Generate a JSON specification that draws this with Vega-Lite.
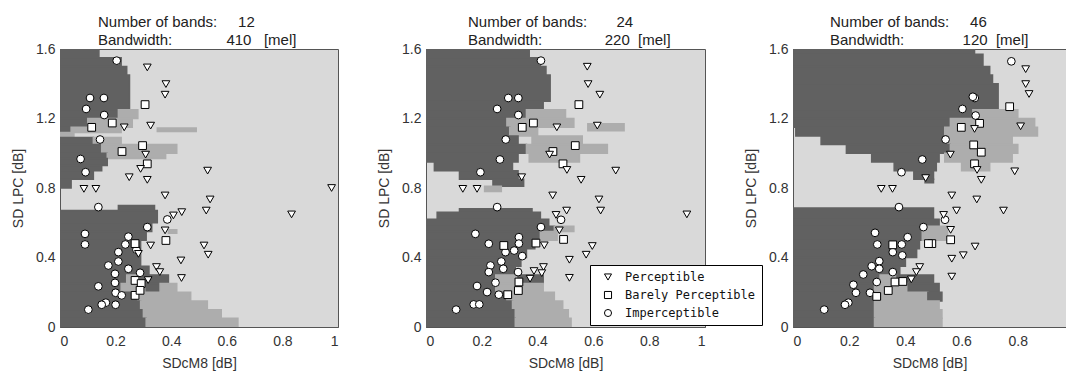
{
  "$schema": "https://vega.github.io/schema/vega-lite/v6.json",
  "background": "white",
  "padding": {"left": 11, "top": 14, "right": 0, "bottom": 0},
  "bounds": "flush",
  "spacing": 88,
  "config": {
    "font": "Liberation Sans",
    "view": {"fill": "#d9d9d9", "stroke": "#555555", "strokeWidth": 1},
    "axis": {"grid": false, "ticks": false, "labelFont": "Liberation Sans", "labelFontSize": 14, "labelColor": "#333333", "titleFont": "Liberation Sans", "titleFontSize": 14, "titleFontWeight": "normal", "titleColor": "#333333", "domainColor": "#555555", "zindex": 1},
    "axisY": {"labelPadding": 5, "titlePadding": 10},
    "axisX": {"labelPadding": 7, "titlePadding": 8},
    "title": {"font": "Liberation Sans", "fontSize": 15, "fontWeight": "normal", "color": "#222222", "anchor": "start", "align": "left", "lineHeight": 18, "offset": -6, "frame": "group"}
  },
  "datasets": {
    "r1": [
      {"y0":1.55,"y1":1.6,"x0":0,"x1":0.14,"c":"D"},
      {"y0":1.5,"y1":1.55,"x0":0,"x1":0.22,"c":"D"},
      {"y0":1.45,"y1":1.5,"x0":0,"x1":0.24,"c":"D"},
      {"y0":1.25,"y1":1.45,"x0":0,"x1":0.25,"c":"D"},
      {"y0":1.2,"y1":1.25,"x0":0,"x1":0.21,"c":"D"},
      {"y0":1.2,"y1":1.25,"x0":0.21,"x1":0.28,"c":"M"},
      {"y0":1.15,"y1":1.2,"x0":0,"x1":0.1,"c":"D"},
      {"y0":1.15,"y1":1.2,"x0":0.1,"x1":0.26,"c":"M"},
      {"y0":1.12,"y1":1.15,"x0":0,"x1":0.04,"c":"D"},
      {"y0":1.12,"y1":1.15,"x0":0.04,"x1":0.22,"c":"M"},
      {"y0":1.125,"y1":1.145,"x0":0.35,"x1":0.49,"c":"M"},
      {"y0":1.09,"y1":1.12,"x0":0,"x1":0.05,"c":"M"},
      {"y0":1.05,"y1":1.09,"x0":0,"x1":0.12,"c":"D"},
      {"y0":1.05,"y1":1.09,"x0":0.12,"x1":0.22,"c":"M"},
      {"y0":1.0,"y1":1.05,"x0":0,"x1":0.15,"c":"D"},
      {"y0":1.0,"y1":1.05,"x0":0.15,"x1":0.42,"c":"M"},
      {"y0":0.97,"y1":1.0,"x0":0,"x1":0.17,"c":"D"},
      {"y0":0.97,"y1":1.0,"x0":0.17,"x1":0.38,"c":"M"},
      {"y0":0.93,"y1":0.97,"x0":0,"x1":0.17,"c":"D"},
      {"y0":0.9,"y1":0.93,"x0":0,"x1":0.15,"c":"D"},
      {"y0":0.85,"y1":0.9,"x0":0,"x1":0.12,"c":"D"},
      {"y0":0.8,"y1":0.85,"x0":0,"x1":0.04,"c":"D"},
      {"y0":0.67,"y1":0.7,"x0":0.21,"x1":0.34,"c":"D"},
      {"y0":0.6,"y1":0.67,"x0":0,"x1":0.35,"c":"D"},
      {"y0":0.55,"y1":0.6,"x0":0,"x1":0.33,"c":"D"},
      {"y0":0.54,"y1":0.56,"x0":0.39,"x1":0.42,"c":"M"},
      {"y0":0.5,"y1":0.55,"x0":0,"x1":0.31,"c":"D"},
      {"y0":0.35,"y1":0.5,"x0":0,"x1":0.29,"c":"D"},
      {"y0":0.3,"y1":0.35,"x0":0,"x1":0.32,"c":"D"},
      {"y0":0.25,"y1":0.3,"x0":0,"x1":0.24,"c":"D"},
      {"y0":0.25,"y1":0.3,"x0":0.24,"x1":0.29,"c":"M"},
      {"y0":0.25,"y1":0.3,"x0":0.29,"x1":0.39,"c":"D"},
      {"y0":0.2,"y1":0.25,"x0":0,"x1":0.22,"c":"D"},
      {"y0":0.2,"y1":0.25,"x0":0.22,"x1":0.31,"c":"M"},
      {"y0":0.2,"y1":0.25,"x0":0.31,"x1":0.36,"c":"D"},
      {"y0":0.2,"y1":0.25,"x0":0.36,"x1":0.42,"c":"M"},
      {"y0":0.15,"y1":0.2,"x0":0,"x1":0.28,"c":"D"},
      {"y0":0.15,"y1":0.2,"x0":0.28,"x1":0.47,"c":"M"},
      {"y0":0.1,"y1":0.15,"x0":0,"x1":0.29,"c":"D"},
      {"y0":0.1,"y1":0.15,"x0":0.29,"x1":0.53,"c":"M"},
      {"y0":0.05,"y1":0.1,"x0":0,"x1":0.3,"c":"D"},
      {"y0":0.05,"y1":0.1,"x0":0.3,"x1":0.58,"c":"M"},
      {"y0":0,"y1":0.05,"x0":0,"x1":0.31,"c":"D"},
      {"y0":0,"y1":0.05,"x0":0.31,"x1":0.64,"c":"M"}
    ],
    "r2": [
      {"y0":1.55,"y1":1.6,"x0":0,"x1":0.37,"c":"D"},
      {"y0":1.5,"y1":1.55,"x0":0,"x1":0.41,"c":"D"},
      {"y0":1.45,"y1":1.5,"x0":0,"x1":0.43,"c":"D"},
      {"y0":1.3,"y1":1.45,"x0":0,"x1":0.445,"c":"D"},
      {"y0":1.25,"y1":1.3,"x0":0,"x1":0.42,"c":"D"},
      {"y0":1.2,"y1":1.25,"x0":0,"x1":0.36,"c":"D"},
      {"y0":1.2,"y1":1.25,"x0":0.36,"x1":0.5,"c":"M"},
      {"y0":1.15,"y1":1.2,"x0":0,"x1":0.29,"c":"D"},
      {"y0":1.15,"y1":1.2,"x0":0.29,"x1":0.53,"c":"M"},
      {"y0":1.13,"y1":1.17,"x0":0.58,"x1":0.71,"c":"M"},
      {"y0":1.1,"y1":1.15,"x0":0,"x1":0.3,"c":"D"},
      {"y0":1.1,"y1":1.15,"x0":0.3,"x1":0.4,"c":"M"},
      {"y0":1.05,"y1":1.1,"x0":0,"x1":0.33,"c":"D"},
      {"y0":1.05,"y1":1.1,"x0":0.38,"x1":0.56,"c":"M"},
      {"y0":1.0,"y1":1.05,"x0":0,"x1":0.36,"c":"D"},
      {"y0":1.0,"y1":1.05,"x0":0.36,"x1":0.65,"c":"M"},
      {"y0":0.95,"y1":1.0,"x0":0,"x1":0.33,"c":"D"},
      {"y0":0.95,"y1":1.0,"x0":0.37,"x1":0.55,"c":"M"},
      {"y0":0.9,"y1":0.95,"x0":0.03,"x1":0.31,"c":"D"},
      {"y0":0.85,"y1":0.9,"x0":0.12,"x1":0.33,"c":"D"},
      {"y0":0.81,"y1":0.85,"x0":0.24,"x1":0.35,"c":"D"},
      {"y0":0.78,"y1":0.81,"x0":0.21,"x1":0.27,"c":"M"},
      {"y0":0.66,"y1":0.68,"x0":0.12,"x1":0.38,"c":"D"},
      {"y0":0.62,"y1":0.66,"x0":0.04,"x1":0.41,"c":"D"},
      {"y0":0.58,"y1":0.62,"x0":0,"x1":0.44,"c":"D"},
      {"y0":0.55,"y1":0.58,"x0":0,"x1":0.46,"c":"D"},
      {"y0":0.55,"y1":0.58,"x0":0.46,"x1":0.53,"c":"M"},
      {"y0":0.5,"y1":0.55,"x0":0,"x1":0.41,"c":"D"},
      {"y0":0.5,"y1":0.55,"x0":0.41,"x1":0.47,"c":"M"},
      {"y0":0.45,"y1":0.5,"x0":0,"x1":0.39,"c":"D"},
      {"y0":0.4,"y1":0.45,"x0":0,"x1":0.36,"c":"D"},
      {"y0":0.35,"y1":0.4,"x0":0,"x1":0.34,"c":"D"},
      {"y0":0.3,"y1":0.35,"x0":0,"x1":0.32,"c":"D"},
      {"y0":0.25,"y1":0.3,"x0":0,"x1":0.25,"c":"D"},
      {"y0":0.25,"y1":0.3,"x0":0.25,"x1":0.33,"c":"M"},
      {"y0":0.25,"y1":0.3,"x0":0.33,"x1":0.42,"c":"D"},
      {"y0":0.2,"y1":0.25,"x0":0,"x1":0.25,"c":"D"},
      {"y0":0.2,"y1":0.25,"x0":0.25,"x1":0.42,"c":"M"},
      {"y0":0.15,"y1":0.2,"x0":0,"x1":0.29,"c":"D"},
      {"y0":0.15,"y1":0.2,"x0":0.29,"x1":0.46,"c":"M"},
      {"y0":0.1,"y1":0.15,"x0":0,"x1":0.31,"c":"D"},
      {"y0":0.1,"y1":0.15,"x0":0.31,"x1":0.49,"c":"M"},
      {"y0":0.05,"y1":0.1,"x0":0,"x1":0.32,"c":"D"},
      {"y0":0.05,"y1":0.1,"x0":0.32,"x1":0.51,"c":"M"},
      {"y0":0,"y1":0.05,"x0":0,"x1":0.32,"c":"D"},
      {"y0":0,"y1":0.05,"x0":0.32,"x1":0.52,"c":"M"}
    ],
    "r3": [
      {"y0":1.57,"y1":1.6,"x0":0,"x1":0.646,"c":"D"},
      {"y0":1.5,"y1":1.57,"x0":0,"x1":0.676,"c":"D"},
      {"y0":1.45,"y1":1.5,"x0":0,"x1":0.7,"c":"D"},
      {"y0":1.4,"y1":1.45,"x0":0,"x1":0.71,"c":"D"},
      {"y0":1.25,"y1":1.4,"x0":0,"x1":0.73,"c":"D"},
      {"y0":1.2,"y1":1.25,"x0":0,"x1":0.64,"c":"D"},
      {"y0":1.2,"y1":1.25,"x0":0.64,"x1":0.8,"c":"M"},
      {"y0":1.15,"y1":1.2,"x0":0,"x1":0.56,"c":"D"},
      {"y0":1.15,"y1":1.2,"x0":0.56,"x1":0.86,"c":"M"},
      {"y0":1.1,"y1":1.15,"x0":0.01,"x1":0.54,"c":"D"},
      {"y0":1.1,"y1":1.15,"x0":0.54,"x1":0.87,"c":"M"},
      {"y0":1.05,"y1":1.1,"x0":0.1,"x1":0.55,"c":"D"},
      {"y0":1.05,"y1":1.1,"x0":0.55,"x1":0.78,"c":"M"},
      {"y0":1.0,"y1":1.05,"x0":0.19,"x1":0.56,"c":"D"},
      {"y0":1.0,"y1":1.05,"x0":0.56,"x1":0.8,"c":"M"},
      {"y0":0.95,"y1":1.0,"x0":0.28,"x1":0.52,"c":"D"},
      {"y0":0.95,"y1":1.0,"x0":0.54,"x1":0.78,"c":"M"},
      {"y0":0.9,"y1":0.95,"x0":0.36,"x1":0.51,"c":"D"},
      {"y0":0.9,"y1":0.95,"x0":0.6,"x1":0.7,"c":"M"},
      {"y0":0.85,"y1":0.9,"x0":0.43,"x1":0.5,"c":"D"},
      {"y0":0.83,"y1":0.85,"x0":0.47,"x1":0.5,"c":"D"},
      {"y0":0.62,"y1":0.685,"x0":0,"x1":0.5,"c":"D"},
      {"y0":0.58,"y1":0.62,"x0":0,"x1":0.52,"c":"D"},
      {"y0":0.5,"y1":0.58,"x0":0,"x1":0.46,"c":"D"},
      {"y0":0.5,"y1":0.58,"x0":0.46,"x1":0.55,"c":"M"},
      {"y0":0.45,"y1":0.5,"x0":0,"x1":0.45,"c":"D"},
      {"y0":0.4,"y1":0.45,"x0":0,"x1":0.44,"c":"D"},
      {"y0":0.35,"y1":0.4,"x0":0,"x1":0.4,"c":"D"},
      {"y0":0.3,"y1":0.35,"x0":0,"x1":0.38,"c":"D"},
      {"y0":0.25,"y1":0.3,"x0":0,"x1":0.31,"c":"D"},
      {"y0":0.25,"y1":0.3,"x0":0.31,"x1":0.37,"c":"M"},
      {"y0":0.25,"y1":0.3,"x0":0.37,"x1":0.5,"c":"D"},
      {"y0":0.2,"y1":0.25,"x0":0,"x1":0.29,"c":"D"},
      {"y0":0.2,"y1":0.25,"x0":0.29,"x1":0.41,"c":"M"},
      {"y0":0.2,"y1":0.25,"x0":0.41,"x1":0.52,"c":"D"},
      {"y0":0.15,"y1":0.2,"x0":0,"x1":0.29,"c":"D"},
      {"y0":0.15,"y1":0.2,"x0":0.29,"x1":0.48,"c":"M"},
      {"y0":0.15,"y1":0.2,"x0":0.48,"x1":0.53,"c":"D"},
      {"y0":0.1,"y1":0.15,"x0":0,"x1":0.29,"c":"D"},
      {"y0":0.1,"y1":0.15,"x0":0.29,"x1":0.52,"c":"M"},
      {"y0":0.05,"y1":0.1,"x0":0,"x1":0.29,"c":"D"},
      {"y0":0.05,"y1":0.1,"x0":0.29,"x1":0.53,"c":"M"},
      {"y0":0,"y1":0.05,"x0":0,"x1":0.29,"c":"D"},
      {"y0":0,"y1":0.05,"x0":0.29,"x1":0.53,"c":"M"}
    ],
    "p1": [
      {"x":0.204,"y":1.533,"k":"Imperceptible"},{"x":0.108,"y":1.318,"k":"Imperceptible"},{"x":0.158,"y":1.318,"k":"Imperceptible"},{"x":0.094,"y":1.255,"k":"Imperceptible"},{"x":0.159,"y":1.22,"k":"Imperceptible"},{"x":0.144,"y":1.079,"k":"Imperceptible"},{"x":0.074,"y":0.967,"k":"Imperceptible"},{"x":0.092,"y":0.891,"k":"Imperceptible"},{"x":0.138,"y":0.69,"k":"Imperceptible"},{"x":0.386,"y":0.619,"k":"Imperceptible"},{"x":0.314,"y":0.575,"k":"Imperceptible"},{"x":0.09,"y":0.536,"k":"Imperceptible"},{"x":0.09,"y":0.475,"k":"Imperceptible"},{"x":0.246,"y":0.52,"k":"Imperceptible"},{"x":0.235,"y":0.475,"k":"Imperceptible"},{"x":0.21,"y":0.431,"k":"Imperceptible"},{"x":0.21,"y":0.377,"k":"Imperceptible"},{"x":0.174,"y":0.354,"k":"Imperceptible"},{"x":0.246,"y":0.335,"k":"Imperceptible"},{"x":0.198,"y":0.306,"k":"Imperceptible"},{"x":0.288,"y":0.312,"k":"Imperceptible"},{"x":0.198,"y":0.254,"k":"Imperceptible"},{"x":0.138,"y":0.234,"k":"Imperceptible"},{"x":0.2,"y":0.197,"k":"Imperceptible"},{"x":0.222,"y":0.182,"k":"Imperceptible"},{"x":0.165,"y":0.14,"k":"Imperceptible"},{"x":0.15,"y":0.128,"k":"Imperceptible"},{"x":0.2,"y":0.128,"k":"Imperceptible"},{"x":0.102,"y":0.1,"k":"Imperceptible"},{"x":0.275,"y":0.445,"k":"Imperceptible"},
      {"x":0.306,"y":1.28,"k":"Barely Perceptible"},{"x":0.188,"y":1.174,"k":"Barely Perceptible"},{"x":0.114,"y":1.149,"k":"Barely Perceptible"},{"x":0.297,"y":1.044,"k":"Barely Perceptible"},{"x":0.223,"y":1.01,"k":"Barely Perceptible"},{"x":0.314,"y":0.939,"k":"Barely Perceptible"},{"x":0.381,"y":0.498,"k":"Barely Perceptible"},{"x":0.27,"y":0.268,"k":"Barely Perceptible"},{"x":0.292,"y":0.25,"k":"Barely Perceptible"},{"x":0.27,"y":0.182,"k":"Barely Perceptible"},{"x":0.288,"y":0.211,"k":"Barely Perceptible"},{"x":0.27,"y":0.48,"k":"Barely Perceptible"},
      {"x":0.314,"y":1.494,"k":"Perceptible"},{"x":0.381,"y":1.398,"k":"Perceptible"},{"x":0.378,"y":1.337,"k":"Perceptible"},{"x":0.231,"y":1.149,"k":"Perceptible"},{"x":0.326,"y":1.159,"k":"Perceptible"},{"x":0.308,"y":0.992,"k":"Perceptible"},{"x":0.29,"y":0.91,"k":"Perceptible"},{"x":0.531,"y":0.9,"k":"Perceptible"},{"x":0.249,"y":0.862,"k":"Perceptible"},{"x":0.314,"y":0.847,"k":"Perceptible"},{"x":0.086,"y":0.795,"k":"Perceptible"},{"x":0.129,"y":0.795,"k":"Perceptible"},{"x":0.977,"y":0.8,"k":"Perceptible"},{"x":0.378,"y":0.757,"k":"Perceptible"},{"x":0.54,"y":0.734,"k":"Perceptible"},{"x":0.526,"y":0.67,"k":"Perceptible"},{"x":0.438,"y":0.661,"k":"Perceptible"},{"x":0.408,"y":0.642,"k":"Perceptible"},{"x":0.378,"y":0.556,"k":"Perceptible"},{"x":0.326,"y":0.469,"k":"Perceptible"},{"x":0.282,"y":0.421,"k":"Perceptible"},{"x":0.518,"y":0.469,"k":"Perceptible"},{"x":0.533,"y":0.416,"k":"Perceptible"},{"x":0.435,"y":0.383,"k":"Perceptible"},{"x":0.347,"y":0.345,"k":"Perceptible"},{"x":0.359,"y":0.316,"k":"Perceptible"},{"x":0.437,"y":0.282,"k":"Perceptible"},{"x":0.317,"y":0.27,"k":"Perceptible"},{"x":0.833,"y":0.648,"k":"Perceptible"}
    ],
    "p2": [
      {"x":0.412,"y":1.533,"k":"Imperceptible"},{"x":0.295,"y":1.318,"k":"Imperceptible"},{"x":0.331,"y":1.318,"k":"Imperceptible"},{"x":0.255,"y":1.255,"k":"Imperceptible"},{"x":0.331,"y":1.22,"k":"Imperceptible"},{"x":0.286,"y":1.079,"k":"Imperceptible"},{"x":0.265,"y":0.964,"k":"Imperceptible"},{"x":0.195,"y":0.891,"k":"Imperceptible"},{"x":0.255,"y":0.69,"k":"Imperceptible"},{"x":0.484,"y":0.617,"k":"Imperceptible"},{"x":0.412,"y":0.575,"k":"Imperceptible"},{"x":0.177,"y":0.536,"k":"Imperceptible"},{"x":0.225,"y":0.479,"k":"Imperceptible"},{"x":0.333,"y":0.517,"k":"Imperceptible"},{"x":0.333,"y":0.48,"k":"Imperceptible"},{"x":0.285,"y":0.431,"k":"Imperceptible"},{"x":0.316,"y":0.44,"k":"Imperceptible"},{"x":0.345,"y":0.408,"k":"Imperceptible"},{"x":0.27,"y":0.377,"k":"Imperceptible"},{"x":0.231,"y":0.354,"k":"Imperceptible"},{"x":0.277,"y":0.335,"k":"Imperceptible"},{"x":0.225,"y":0.316,"k":"Imperceptible"},{"x":0.33,"y":0.316,"k":"Imperceptible"},{"x":0.249,"y":0.255,"k":"Imperceptible"},{"x":0.183,"y":0.236,"k":"Imperceptible"},{"x":0.219,"y":0.201,"k":"Imperceptible"},{"x":0.261,"y":0.186,"k":"Imperceptible"},{"x":0.171,"y":0.13,"k":"Imperceptible"},{"x":0.191,"y":0.13,"k":"Imperceptible"},{"x":0.108,"y":0.1,"k":"Imperceptible"},
      {"x":0.548,"y":1.28,"k":"Barely Perceptible"},{"x":0.385,"y":1.174,"k":"Barely Perceptible"},{"x":0.345,"y":1.149,"k":"Barely Perceptible"},{"x":0.535,"y":1.044,"k":"Barely Perceptible"},{"x":0.455,"y":1.01,"k":"Barely Perceptible"},{"x":0.491,"y":0.939,"k":"Barely Perceptible"},{"x":0.493,"y":0.504,"k":"Barely Perceptible"},{"x":0.279,"y":0.469,"k":"Barely Perceptible"},{"x":0.394,"y":0.483,"k":"Barely Perceptible"},{"x":0.333,"y":0.259,"k":"Barely Perceptible"},{"x":0.293,"y":0.186,"k":"Barely Perceptible"},{"x":0.331,"y":0.21,"k":"Barely Perceptible"},
      {"x":0.578,"y":1.498,"k":"Perceptible"},{"x":0.581,"y":1.398,"k":"Perceptible"},{"x":0.623,"y":1.337,"k":"Perceptible"},{"x":0.469,"y":1.149,"k":"Perceptible"},{"x":0.614,"y":1.159,"k":"Perceptible"},{"x":0.443,"y":0.992,"k":"Perceptible"},{"x":0.505,"y":0.904,"k":"Perceptible"},{"x":0.68,"y":0.9,"k":"Perceptible"},{"x":0.343,"y":0.862,"k":"Perceptible"},{"x":0.556,"y":0.847,"k":"Perceptible"},{"x":0.132,"y":0.795,"k":"Perceptible"},{"x":0.183,"y":0.795,"k":"Perceptible"},{"x":0.935,"y":0.648,"k":"Perceptible"},{"x":0.454,"y":0.757,"k":"Perceptible"},{"x":0.62,"y":0.734,"k":"Perceptible"},{"x":0.626,"y":0.67,"k":"Perceptible"},{"x":0.504,"y":0.67,"k":"Perceptible"},{"x":0.466,"y":0.645,"k":"Perceptible"},{"x":0.478,"y":0.556,"k":"Perceptible"},{"x":0.424,"y":0.47,"k":"Perceptible"},{"x":0.514,"y":0.387,"k":"Perceptible"},{"x":0.596,"y":0.466,"k":"Perceptible"},{"x":0.574,"y":0.416,"k":"Perceptible"},{"x":0.514,"y":0.283,"k":"Perceptible"},{"x":0.421,"y":0.345,"k":"Perceptible"},{"x":0.387,"y":0.322,"k":"Perceptible"},{"x":0.415,"y":0.31,"k":"Perceptible"},{"x":0.373,"y":0.278,"k":"Perceptible"}
    ],
    "p3": [
      {"x":0.777,"y":1.529,"k":"Imperceptible"},{"x":0.647,"y":1.318,"k":"Imperceptible"},{"x":0.64,"y":1.325,"k":"Imperceptible"},{"x":0.603,"y":1.255,"k":"Imperceptible"},{"x":0.65,"y":1.217,"k":"Imperceptible"},{"x":0.543,"y":1.079,"k":"Imperceptible"},{"x":0.46,"y":0.964,"k":"Imperceptible"},{"x":0.386,"y":0.891,"k":"Imperceptible"},{"x":0.377,"y":0.69,"k":"Imperceptible"},{"x":0.541,"y":0.617,"k":"Imperceptible"},{"x":0.464,"y":0.575,"k":"Imperceptible"},{"x":0.292,"y":0.542,"k":"Imperceptible"},{"x":0.3,"y":0.475,"k":"Imperceptible"},{"x":0.387,"y":0.475,"k":"Imperceptible"},{"x":0.408,"y":0.517,"k":"Imperceptible"},{"x":0.355,"y":0.431,"k":"Imperceptible"},{"x":0.389,"y":0.412,"k":"Imperceptible"},{"x":0.307,"y":0.379,"k":"Imperceptible"},{"x":0.28,"y":0.35,"k":"Imperceptible"},{"x":0.307,"y":0.335,"k":"Imperceptible"},{"x":0.25,"y":0.302,"k":"Imperceptible"},{"x":0.355,"y":0.316,"k":"Imperceptible"},{"x":0.298,"y":0.259,"k":"Imperceptible"},{"x":0.215,"y":0.243,"k":"Imperceptible"},{"x":0.224,"y":0.197,"k":"Imperceptible"},{"x":0.274,"y":0.197,"k":"Imperceptible"},{"x":0.197,"y":0.14,"k":"Imperceptible"},{"x":0.185,"y":0.128,"k":"Imperceptible"},{"x":0.111,"y":0.1,"k":"Imperceptible"},
      {"x":0.771,"y":1.268,"k":"Barely Perceptible"},{"x":0.664,"y":1.172,"k":"Barely Perceptible"},{"x":0.599,"y":1.149,"k":"Barely Perceptible"},{"x":0.643,"y":1.048,"k":"Barely Perceptible"},{"x":0.67,"y":1.006,"k":"Barely Perceptible"},{"x":0.646,"y":0.939,"k":"Barely Perceptible"},{"x":0.561,"y":0.502,"k":"Barely Perceptible"},{"x":0.355,"y":0.473,"k":"Barely Perceptible"},{"x":0.494,"y":0.48,"k":"Barely Perceptible"},{"x":0.482,"y":0.48,"k":"Barely Perceptible"},{"x":0.363,"y":0.259,"k":"Barely Perceptible"},{"x":0.391,"y":0.262,"k":"Barely Perceptible"},{"x":0.298,"y":0.176,"k":"Barely Perceptible"},{"x":0.339,"y":0.21,"k":"Barely Perceptible"},
      {"x":0.828,"y":1.484,"k":"Perceptible"},{"x":0.828,"y":1.398,"k":"Perceptible"},{"x":0.84,"y":1.341,"k":"Perceptible"},{"x":0.646,"y":1.14,"k":"Perceptible"},{"x":0.81,"y":1.155,"k":"Perceptible"},{"x":0.56,"y":0.992,"k":"Perceptible"},{"x":0.655,"y":0.904,"k":"Perceptible"},{"x":0.789,"y":0.896,"k":"Perceptible"},{"x":0.472,"y":0.857,"k":"Perceptible"},{"x":0.67,"y":0.847,"k":"Perceptible"},{"x":0.314,"y":0.795,"k":"Perceptible"},{"x":0.354,"y":0.795,"k":"Perceptible"},{"x":0.565,"y":0.757,"k":"Perceptible"},{"x":0.654,"y":0.734,"k":"Perceptible"},{"x":0.582,"y":0.67,"k":"Perceptible"},{"x":0.536,"y":0.645,"k":"Perceptible"},{"x":0.561,"y":0.559,"k":"Perceptible"},{"x":0.749,"y":0.67,"k":"Perceptible"},{"x":0.648,"y":0.463,"k":"Perceptible"},{"x":0.606,"y":0.413,"k":"Perceptible"},{"x":0.565,"y":0.393,"k":"Perceptible"},{"x":0.565,"y":0.29,"k":"Perceptible"},{"x":0.451,"y":0.345,"k":"Perceptible"},{"x":0.439,"y":0.316,"k":"Perceptible"},{"x":0.421,"y":0.274,"k":"Perceptible"}
    ]
  },
  "resolve": {
    "scale": {"x": "independent", "y": "independent", "color": "independent", "stroke": "independent", "shape": "independent"},
    "legend": {"shape": "independent", "color": "independent", "stroke": "independent"}
  },
  "hconcat": [
    {
      "width": 278, "height": 278,
      "title": {"text": ["Number of bands:\u00a0\u00a0\u00a0\u00a0\u00a012", "\u00a0Bandwidth:\u00a0\u00a0\u00a0\u00a0\u00a0\u00a0\u00a0\u00a0\u00a0\u00a0\u00a0\u00a0\u00a0410\u00a0\u00a0\u00a0[mel]"], "dx": 38},
      "layer": [
        {
          "data": {"name": "r1"},
          "mark": {"type": "rect", "strokeWidth": 1.5, "clip": true},
          "encoding": {
            "x": {"field": "x0", "type": "quantitative", "scale": {"domain": [0, 1], "nice": false}, "axis": {"values": [0, 0.2, 0.4, 0.6, 0.8, 1], "format": "~g", "title": "SDcM8 [dB]"}},
            "x2": {"field": "x1"},
            "y": {"field": "y0", "type": "quantitative", "scale": {"domain": [0, 1.6], "nice": false}, "axis": {"values": [0, 0.2, 0.4, 0.6, 0.8, 1, 1.2, 1.4, 1.6], "format": "~g", "title": "SD LPC [dB]"}},
            "y2": {"field": "y1"},
            "color": {"field": "c", "type": "nominal", "scale": {"domain": ["D", "M"], "range": ["#616161", "#adadad"]}, "legend": null},
            "stroke": {"field": "c", "type": "nominal", "scale": {"domain": ["D", "M"], "range": ["#616161", "#adadad"]}, "legend": null}
          }
        },
        {
          "data": {"name": "p1"},
          "mark": {"type": "point", "filled": false, "fill": "white", "stroke": "black", "strokeWidth": 1, "size": 60, "opacity": 1, "clip": true},
          "encoding": {
            "x": {"field": "x", "type": "quantitative"},
            "y": {"field": "y", "type": "quantitative"},
            "shape": {"field": "k", "type": "nominal", "scale": {"domain": ["Perceptible", "Barely Perceptible", "Imperceptible"], "range": ["triangle-down", "square", "circle"]}, "legend": null}
          }
        }
      ]
    },
    {
      "width": 279, "height": 278,
      "title": {"text": ["Number of bands:\u00a0\u00a0\u00a0\u00a0\u00a0\u00a0\u00a024", "\u00a0Bandwidth:\u00a0\u00a0\u00a0\u00a0\u00a0\u00a0\u00a0\u00a0\u00a0\u00a0\u00a0\u00a0\u00a0\u00a0\u00a0220\u00a0\u00a0[mel]"], "dx": 42},
      "layer": [
        {
          "data": {"name": "r2"},
          "mark": {"type": "rect", "strokeWidth": 1.5, "clip": true},
          "encoding": {
            "x": {"field": "x0", "type": "quantitative", "scale": {"domain": [0, 1], "nice": false}, "axis": {"values": [0, 0.2, 0.4, 0.6, 0.8, 1], "format": "~g", "title": "SDcM8 [dB]"}},
            "x2": {"field": "x1"},
            "y": {"field": "y0", "type": "quantitative", "scale": {"domain": [0, 1.6], "nice": false}, "axis": {"values": [0, 0.2, 0.4, 0.6, 0.8, 1, 1.2, 1.4, 1.6], "format": "~g", "title": "SD LPC [dB]"}},
            "y2": {"field": "y1"},
            "color": {"field": "c", "type": "nominal", "scale": {"domain": ["D", "M"], "range": ["#616161", "#adadad"]}, "legend": null},
            "stroke": {"field": "c", "type": "nominal", "scale": {"domain": ["D", "M"], "range": ["#616161", "#adadad"]}, "legend": null}
          }
        },
        {
          "data": {"name": "p2"},
          "mark": {"type": "point", "filled": false, "fill": "white", "stroke": "black", "strokeWidth": 1, "size": 60, "opacity": 1, "clip": true},
          "encoding": {
            "x": {"field": "x", "type": "quantitative"},
            "y": {"field": "y", "type": "quantitative"},
            "shape": {"field": "k", "type": "nominal", "scale": {"domain": ["Perceptible", "Barely Perceptible", "Imperceptible"], "range": ["triangle-down", "square", "circle"]},
              "legend": {"orient": "none", "legendX": 164, "legendY": 216, "title": null, "strokeColor": "black", "fillColor": "white", "padding": 6, "labelFont": "DejaVu Sans Mono", "labelFontSize": 12, "labelColor": "#111111", "symbolSize": 50, "symbolStrokeWidth": 1, "rowPadding": 6, "labelOffset": 11, "symbolOffset": 6, "cornerRadius": 0, "zindex": 2}}
          }
        }
      ]
    },
    {
      "width": 273, "height": 278,
      "title": {"text": ["Number of bands:\u00a0\u00a0\u00a0\u00a0\u00a046", "\u00a0Bandwidth:\u00a0\u00a0\u00a0\u00a0\u00a0\u00a0\u00a0\u00a0\u00a0\u00a0\u00a0\u00a0\u00a0\u00a0120\u00a0\u00a0[mel]"], "dx": 37},
      "layer": [
        {
          "data": {"name": "r3"},
          "mark": {"type": "rect", "strokeWidth": 1.5, "clip": true},
          "encoding": {
            "x": {"field": "x0", "type": "quantitative", "scale": {"domain": [0, 0.9715], "nice": false}, "axis": {"values": [0, 0.2, 0.4, 0.6, 0.8], "format": "~g", "title": "SDcM8 [dB]"}},
            "x2": {"field": "x1"},
            "y": {"field": "y0", "type": "quantitative", "scale": {"domain": [0, 1.6], "nice": false}, "axis": {"values": [0, 0.2, 0.4, 0.6, 0.8, 1, 1.2, 1.4, 1.6], "format": "~g", "title": "SD LPC [dB]"}},
            "y2": {"field": "y1"},
            "color": {"field": "c", "type": "nominal", "scale": {"domain": ["D", "M"], "range": ["#616161", "#adadad"]}, "legend": null},
            "stroke": {"field": "c", "type": "nominal", "scale": {"domain": ["D", "M"], "range": ["#616161", "#adadad"]}, "legend": null}
          }
        },
        {
          "data": {"name": "p3"},
          "mark": {"type": "point", "filled": false, "fill": "white", "stroke": "black", "strokeWidth": 1, "size": 60, "opacity": 1, "clip": true},
          "encoding": {
            "x": {"field": "x", "type": "quantitative"},
            "y": {"field": "y", "type": "quantitative"},
            "shape": {"field": "k", "type": "nominal", "scale": {"domain": ["Perceptible", "Barely Perceptible", "Imperceptible"], "range": ["triangle-down", "square", "circle"]}, "legend": null}
          }
        }
      ]
    }
  ]
}
